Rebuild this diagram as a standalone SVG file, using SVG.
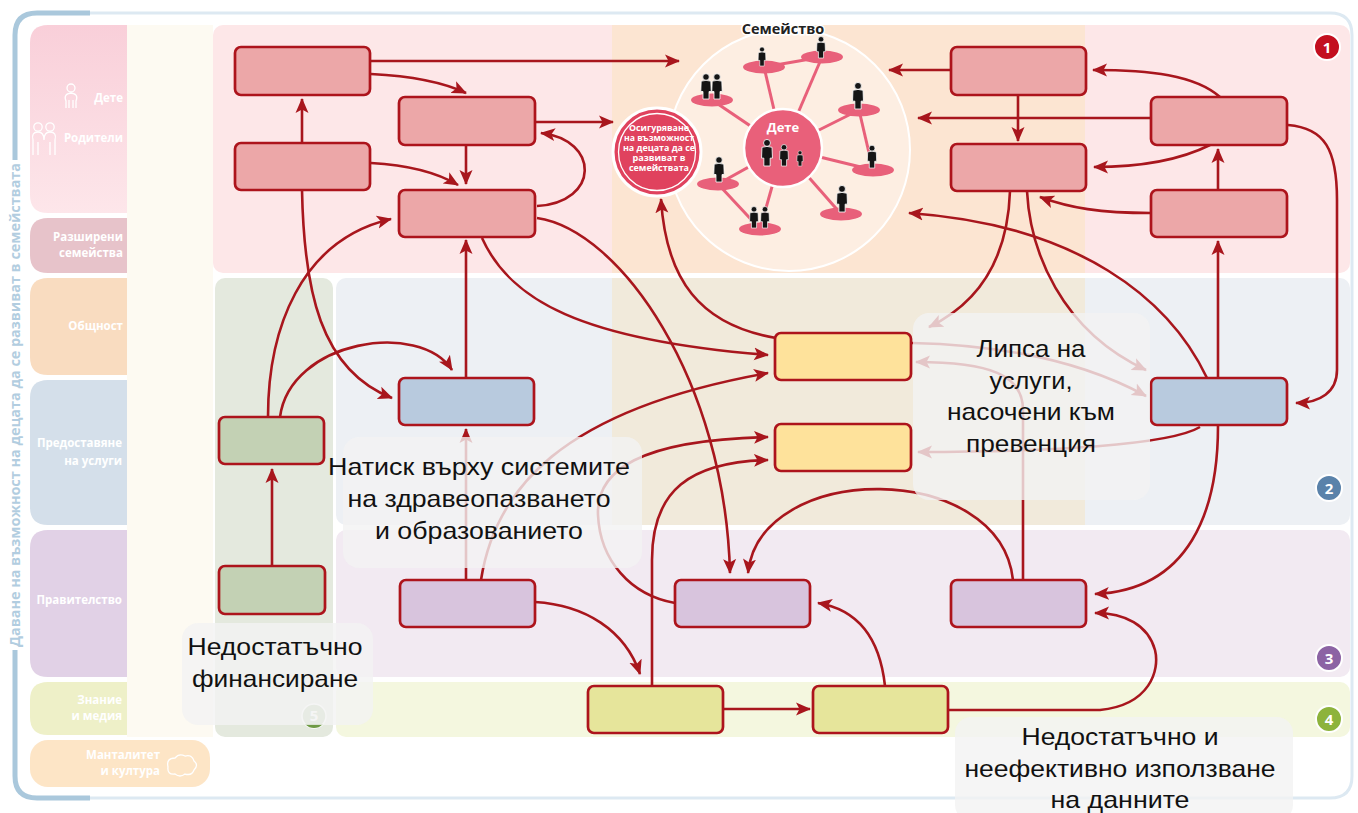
<svg xmlns="http://www.w3.org/2000/svg" width="1358" height="813" viewBox="0 0 1358 813">
<style>
.node{stroke:#ad141c;stroke-width:2.7}
.pink{fill:#eca7a8}.blue{fill:#b8cade}.yel{fill:#fee29b}.grn{fill:#c3d1b4}.lav{fill:#d8c4dd}.kn{fill:#e6e59b}
.c{fill:none;stroke:#a8161d;stroke-width:2.6}
.lbl{font-family:"Open Sans","Noto Sans",sans-serif;font-weight:700;font-size:11.5px;fill:#ffffff;text-anchor:end}
.call{fill:#f3f3f3;fill-opacity:0.8}
.ct{font-family:"Liberation Sans",Arial,sans-serif;font-size:24px;fill:#111111;text-anchor:middle}
.sat{fill:#e8607a}
.sl{stroke:#e8607a;stroke-width:3;fill:none}
.pp{fill:#151515;stroke:#ffffff;stroke-width:0.8}
.badge{font-family:"Open Sans","Noto Sans",sans-serif;font-weight:700;font-size:15px;fill:#ffffff;text-anchor:middle}
.ico{fill:none;stroke:#ffffff;stroke-width:1.3}
.gt{font-family:"Open Sans","Noto Sans",sans-serif;font-weight:700;font-size:8px;fill:#ffffff;text-anchor:middle}
</style>
<defs>
<marker id="ah" markerUnits="userSpaceOnUse" markerWidth="16" markerHeight="14" refX="14" refY="7" orient="auto">
<path d="M0,0.5 L15,7 L0,13.5 L3.5,7 Z" fill="#a8161d"/>
</marker>
<g id="pers" class="pp">
<circle cx="0" cy="-22" r="3.3"/>
<path d="M-4.8,-17.8 Q0,-19.5 4.8,-17.8 L5.2,-7.5 L3,-7.5 L3,0 L-3,0 L-3,-7.5 L-5.2,-7.5 Z"/>
</g>
<linearGradient id="pg" x1="0" y1="0" x2="0" y2="1"><stop offset="0" stop-color="#f9cfd9"/><stop offset="1" stop-color="#fde6ea"/></linearGradient>
<clipPath id="b5c"><circle cx="314" cy="716" r="12"/></clipPath>
</defs>

<!-- background frame -->
<g id="frame">
<rect x="0" y="0" width="1358" height="813" fill="#ffffff"/>
<path d="M80,13 H1330 Q1352,13 1352,35 V776 Q1352,798 1330,798 H80" fill="none" stroke="#dde9f2" stroke-width="3"/>
<path d="M90,13 H37 Q15,13 15,35 V160 M15,650 V776 Q15,798 37,798 H90" fill="none" stroke="#aac8dc" stroke-width="5"/>
<text transform="translate(20,405) rotate(-90)" text-anchor="middle" font-family="Open Sans, Noto Sans, sans-serif" font-weight="700" font-size="14.5" fill="#b2cde0" textLength="484" lengthAdjust="spacingAndGlyphs">Даване на възможност на децата да се развиват в семействата</text>
</g>

<!-- row labels -->
<g id="rows">
<rect x="127" y="25" width="86" height="712" fill="#fdfaf2"/>
<path d="M127,25 H48 Q30,25 30,43 V195 Q30,213 48,213 H127 Z" fill="url(#pg)"/>
<path d="M127,218 H48 Q30,218 30,236 V255 Q30,273 48,273 H127 Z" fill="#e7c3ca"/>
<path d="M127,278 H48 Q30,278 30,296 V357 Q30,375 48,375 H127 Z" fill="#f9dcc0"/>
<path d="M127,380 H48 Q30,380 30,398 V507 Q30,525 48,525 H127 Z" fill="#d4dfea"/>
<path d="M127,530 H48 Q30,530 30,548 V659 Q30,677 48,677 H127 Z" fill="#e1d1e6"/>
<path d="M127,682 H48 Q30,682 30,700 V717 Q30,735 48,735 H127 Z" fill="#eef0c8"/>
<rect x="30" y="740" width="180" height="47" rx="18" fill="#fde5c6"/>
<text class="lbl" x="123" y="102">Дете</text>
<text class="lbl" x="123" y="142">Родители</text>
<text class="lbl" x="123" y="241">Разширени</text>
<text class="lbl" x="123" y="257">семейства</text>
<text class="lbl" x="123" y="330">Общност</text>
<text class="lbl" x="122" y="447">Предоставяне</text>
<text class="lbl" x="122" y="465">на услуги</text>
<text class="lbl" x="122" y="604">Правителство</text>
<text class="lbl" x="122" y="704">Знание</text>
<text class="lbl" x="122" y="720">и медия</text>
<text class="lbl" x="160" y="759">Манталитет</text>
<text class="lbl" x="160" y="775">и култура</text>
<path class="ico" d="M168,767 q-2,-9 7,-9 q4,-5 10,-2 q7,-2 9,5 q5,4 0,9 q-2,6 -9,4 q-5,4 -10,0 q-8,1 -7,-7 z"/>
<circle class="ico" cx="71" cy="88" r="4"/>
<path class="ico" d="M66,108 V101 Q63,94 71,93 Q79,94 76,101 V108 M69,108 V100 M73,108 V100"/>
<circle class="ico" cx="38" cy="127" r="4.2"/>
<circle class="ico" cx="50" cy="127" r="4.2"/>
<path class="ico" d="M33,155 V140 Q31,132 38,132 Q44,132 44,140 Q44,132 50,132 Q57,132 55,140 V155 M38,155 V142 M50,155 V142"/>
</g>

<!-- zones -->
<g id="zones">
<rect x="213" y="25" width="1137" height="248" rx="10" fill="#fde7e8"/>
<rect x="612" y="25" width="473" height="248" fill="#fce5d2"/>
<rect x="336" y="278" width="1014" height="247" rx="10" fill="#edf0f4"/>
<rect x="612" y="278" width="473" height="247" fill="#f1eadb"/>
<rect x="215" y="278" width="118" height="459" rx="10" fill="#e4e9de"/>
<rect x="336" y="530" width="1014" height="147" rx="10" fill="#f2eaf2"/>
<rect x="336" y="682" width="1014" height="55" rx="10" fill="#f4f7df"/>
</g>

<!-- family circle -->
<g id="family">
<circle cx="789" cy="150" r="121" fill="#fdeee2" stroke="#ffffff" stroke-width="2"/>
<text x="783" y="34" text-anchor="middle" font-family="Open Sans, Noto Sans, sans-serif" font-weight="700" font-size="14.5" fill="#222222" stroke="#ffffff" stroke-width="3" paint-order="stroke">Семейство</text>
<line class="sl" x1="783" y1="148" x2="764" y2="67"/>
<line class="sl" x1="783" y1="148" x2="822" y2="57"/>
<line class="sl" x1="783" y1="148" x2="712" y2="100"/>
<line class="sl" x1="783" y1="148" x2="859" y2="110"/>
<line class="sl" x1="783" y1="148" x2="873" y2="170"/>
<line class="sl" x1="783" y1="148" x2="718" y2="184"/>
<line class="sl" x1="783" y1="148" x2="760" y2="229"/>
<line class="sl" x1="783" y1="148" x2="841" y2="214"/>
<line class="sl" x1="764" y1="67" x2="822" y2="57"/>
<line class="sl" x1="859" y1="110" x2="873" y2="170"/>
<line class="sl" x1="718" y1="184" x2="760" y2="229"/>
<ellipse class="sat" cx="764" cy="67" rx="21" ry="6.5"/>
<ellipse class="sat" cx="822" cy="57" rx="21" ry="6.5"/>
<ellipse class="sat" cx="712" cy="100" rx="21" ry="6.5"/>
<ellipse class="sat" cx="859" cy="110" rx="21" ry="6.5"/>
<ellipse class="sat" cx="873" cy="170" rx="21" ry="6.5"/>
<ellipse class="sat" cx="718" cy="184" rx="21" ry="6.5"/>
<ellipse class="sat" cx="760" cy="229" rx="21" ry="6.5"/>
<ellipse class="sat" cx="841" cy="214" rx="21" ry="6.5"/>
<use href="#pers" transform="translate(762,66) scale(0.75)"/>
<use href="#pers" transform="translate(821,58) scale(0.85)"/>
<use href="#pers" transform="translate(706,99) scale(1)"/>
<use href="#pers" transform="translate(717,99) scale(1)"/>
<use href="#pers" transform="translate(858,109) scale(1.05)"/>
<use href="#pers" transform="translate(872,168) scale(0.9)"/>
<use href="#pers" transform="translate(719,182) scale(1)"/>
<use href="#pers" transform="translate(754,228) scale(0.85)"/>
<use href="#pers" transform="translate(765,228) scale(0.85)"/>
<use href="#pers" transform="translate(842,212) scale(1.05)"/>
<circle cx="783" cy="148" r="39" fill="#e9607a" stroke="#ffffff" stroke-width="2.5"/>
<text x="783" y="132" text-anchor="middle" font-family="Open Sans, Noto Sans, sans-serif" font-weight="700" font-size="13" fill="#ffffff">Дете</text>
<use href="#pers" transform="translate(767,166) scale(1.05)"/>
<use href="#pers" transform="translate(784,166) scale(0.85)"/>
<use href="#pers" transform="translate(800,166) scale(0.6)"/>
</g>

<g id="goal">
<circle cx="657" cy="152" r="44" fill="#e0425e" stroke="#ffffff" stroke-width="3"/>
<circle cx="657" cy="152" r="38.5" fill="none" stroke="#ffffff" stroke-width="1.3"/>
<text class="gt" x="659" y="131" textLength="60" lengthAdjust="spacingAndGlyphs">Осигуряване</text>
<text class="gt" x="659" y="141" textLength="70" lengthAdjust="spacingAndGlyphs">на възможност</text>
<text class="gt" x="659" y="151" textLength="72" lengthAdjust="spacingAndGlyphs">на децата да се</text>
<text class="gt" x="659" y="161" textLength="53" lengthAdjust="spacingAndGlyphs">развиват в</text>
<text class="gt" x="659" y="171" textLength="60" lengthAdjust="spacingAndGlyphs">семействата</text>
</g>

<!-- connectors -->
<g id="connectors" class="c" marker-end="url(#ah)">
<path d="M371,61 L679,61"/>
<path d="M371,74 Q432,77 466,93"/>
<path d="M302,143 L302,99"/>
<path d="M371,163 Q426,166 458,185"/>
<path d="M466,145 L466,184"/>
<path d="M536,122 L613,122"/>
<path d="M537,206 C600,202 600,140 541,133"/>
<path d="M268,417 C268,330 300,240 391,219"/>
<path d="M302,190 C304,290 320,370 392,398"/>
<path d="M280,417 C290,340 420,320 452,370"/>
<path d="M466,378 L466,240"/>
<path d="M482,238 C510,300 580,340 768,355"/>
<path d="M537,218 C620,230 725,380 730,573"/>
<path d="M776,338 C700,325 666,280 661,199"/>
<path d="M481,580 C495,490 560,410 768,373"/>
<path d="M466,580 L466,429"/>
<path d="M675,603 C630,595 600,560 598,515 C596,470 640,440 768,437"/>
<path d="M652,686 L652,560 C652,490 690,462 768,460"/>
<path d="M1013,580 C1000,460 760,460 748,573"/>
<path d="M1023,580 L1023,410 C1023,375 990,362 916,362"/>
<path d="M912,343 C1000,345 1080,360 1146,396"/>
<path d="M1010,191 C1008,250 985,300 929,327"/>
<path d="M1027,191 C1030,250 1060,330 1146,370"/>
<path d="M1218,378 L1218,241"/>
<path d="M1218,190 L1218,149"/>
<path d="M1151,213 C1100,213 1070,208 1040,197"/>
<path d="M1210,145 C1180,160 1140,167 1094,167"/>
<path d="M1151,118 L918,118"/>
<path d="M1220,97 C1195,75 1150,70 1093,70"/>
<path d="M951,70 L889,70"/>
<path d="M1018,95 L1018,141"/>
<path d="M1207,378 C1170,300 1080,225 909,213"/>
<path d="M1218,426 C1218,510 1190,590 1095,594"/>
<path d="M1200,427 C1170,445 1050,452 918,452"/>
<path d="M1288,125 C1325,128 1337,150 1337,200 L1337,370 C1337,392 1320,403 1296,403"/>
<path d="M724,709 L810,709"/>
<path d="M885,686 C880,640 860,610 818,603"/>
<path d="M948,710 L1100,710 C1150,705 1160,670 1155,650 C1148,625 1125,613 1095,613"/>
<path d="M535,602 C585,605 625,630 640,674"/>
<path d="M272,566 L272,469"/>
</g>

<!-- nodes -->
<g id="nA"><rect class="node pink" x="235" y="47" width="135" height="48" rx="6"/></g>
<g id="nB"><rect class="node pink" x="399" y="97" width="136" height="48" rx="6"/></g>
<g id="nC"><rect class="node pink" x="235" y="143" width="135" height="47" rx="6"/></g>
<g id="nD"><rect class="node pink" x="399" y="190" width="136" height="47" rx="6"/></g>
<g id="nE"><rect class="node pink" x="951" y="47" width="135" height="48" rx="6"/></g>
<g id="nF"><rect class="node pink" x="951" y="144" width="135" height="47" rx="6"/></g>
<g id="nG"><rect class="node pink" x="1151" y="97" width="136" height="48" rx="6"/></g>
<g id="nH"><rect class="node pink" x="1151" y="190" width="136" height="47" rx="6"/></g>
<g id="nI"><rect class="node blue" x="399" y="378" width="135" height="47" rx="6"/></g>
<g id="nJ"><rect class="node blue" x="1151" y="378" width="136" height="47" rx="6"/></g>
<g id="nK"><rect class="node yel" x="775" y="333" width="136" height="47" rx="6"/></g>
<g id="nL"><rect class="node yel" x="775" y="424" width="136" height="47" rx="6"/></g>
<g id="nM"><rect class="node grn" x="219" y="417" width="105" height="47" rx="6"/></g>
<g id="nN"><rect class="node grn" x="219" y="566" width="106" height="48" rx="6"/></g>
<g id="nO"><rect class="node lav" x="400" y="580" width="135" height="47" rx="6"/></g>
<g id="nP"><rect class="node lav" x="675" y="580" width="135" height="47" rx="6"/></g>
<g id="nQ"><rect class="node lav" x="951" y="580" width="135" height="47" rx="6"/></g>
<g id="nR"><rect class="node kn" x="588" y="686" width="135" height="47" rx="6"/></g>
<g id="nS"><rect class="node kn" x="813" y="686" width="135" height="47" rx="6"/></g>

<g id="badge5">
<circle cx="314" cy="716" r="12" fill="#b9cbab" stroke="#ffffff" stroke-width="1.5"/>
<rect x="300" y="724" width="28" height="6" fill="#6f9a45" clip-path="url(#b5c)"/>
<text class="badge" x="314" y="721" font-size="14">5</text>
</g>

<!-- callouts -->
<g id="callout-prevention">
<rect class="call" x="913" y="313" width="237" height="187" rx="16"/>
<text class="ct" x="1031" y="357" textLength="109" lengthAdjust="spacingAndGlyphs">Липса на</text>
<text class="ct" x="1031" y="389" textLength="83" lengthAdjust="spacingAndGlyphs">услуги,</text>
<text class="ct" x="1031" y="420" textLength="168" lengthAdjust="spacingAndGlyphs">насочени към</text>
<text class="ct" x="1031" y="452" textLength="130" lengthAdjust="spacingAndGlyphs">превенция</text>
</g>
<g id="callout-pressure">
<rect class="call" x="343" y="437" width="299" height="131" rx="16"/>
<text class="ct" x="479" y="475" textLength="302" lengthAdjust="spacingAndGlyphs">Натиск върху системите</text>
<text class="ct" x="479" y="507" textLength="263" lengthAdjust="spacingAndGlyphs">на здравеопазването</text>
<text class="ct" x="479" y="539" textLength="208" lengthAdjust="spacingAndGlyphs">и образованието</text>
</g>
<g id="callout-funding">
<rect class="call" x="182" y="623" width="191" height="102" rx="16"/>
<text class="ct" x="275" y="655" textLength="175" lengthAdjust="spacingAndGlyphs">Недостатъчно</text>
<text class="ct" x="275" y="687" textLength="166" lengthAdjust="spacingAndGlyphs">финансиране</text>
</g>
<g id="callout-data">
<rect class="call" x="955" y="717" width="338" height="104" rx="16"/>
<text class="ct" x="1120" y="745" textLength="197" lengthAdjust="spacingAndGlyphs">Недостатъчно и</text>
<text class="ct" x="1120" y="777" textLength="311" lengthAdjust="spacingAndGlyphs">неефективно използване</text>
<text class="ct" x="1120" y="808" textLength="139" lengthAdjust="spacingAndGlyphs">на данните</text>
</g>

<!-- badges -->
<g id="badges">
<circle cx="1327" cy="47" r="13" fill="#c30f1f" stroke="#ffffff" stroke-width="2"/>
<text class="badge" x="1327" y="53">1</text>
<circle cx="1329" cy="488" r="13" fill="#5a82aa" stroke="#ffffff" stroke-width="2"/>
<text class="badge" x="1329" y="494">2</text>
<circle cx="1329" cy="658" r="13" fill="#8c63a4" stroke="#ffffff" stroke-width="2"/>
<text class="badge" x="1329" y="664">3</text>
<circle cx="1329" cy="719" r="13" fill="#8db33c" stroke="#ffffff" stroke-width="2"/>
<text class="badge" x="1329" y="725">4</text>
</g>
</svg>
